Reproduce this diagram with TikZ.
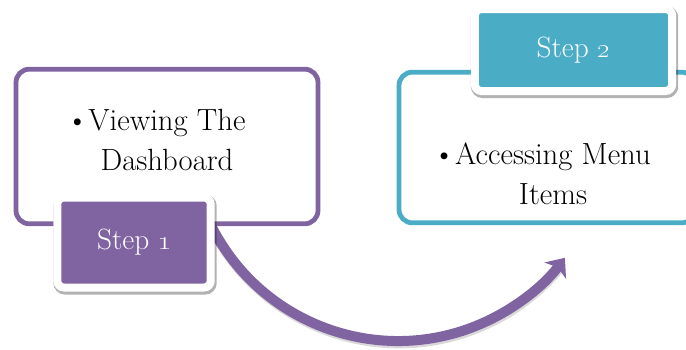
\documentclass[tikz,border=0pt]{standalone}
\usetikzlibrary{
  positioning,
  shadows,
  arrows.meta}
\definecolor{stepone}{RGB}{128,100,162}
\definecolor{steptwo}{RGB}{75,172,198}
\tikzset{
  %% content : the large outlined box of a step
  content/.style={
    rectangle,
    rounded corners=10pt,
    fill=white,
    line width=3.6pt,
    inner sep=0pt
  },
  %% itemtext : the bullet text inside a content box
  itemtext/.style={
    align=center,
    font=\fontsize{23}{30}\selectfont
  },
  %% stepbox : the filled step label with white rim
  stepbox/.style={
    rectangle,
    rounded corners=5pt,
    draw=white,
    line width=6pt,
    minimum width=115pt,
    text=white,
    font=\fontsize{22}{26}\selectfont,
    drop shadow={shadow xshift=0.8pt, shadow yshift=-1.5pt,
      opacity=0.3, fill=black, draw=black, line width=7.5pt}
  },
  %% flow : the curved arrow from one step to the next
  flow/.style={
    stepone,
    line width=7.5pt,
    -{Stealth[length=12pt, width=20pt, inset=3pt]}
  }
}

\begin{document}
\begin{tikzpicture}
  [x=0.75pt,
  y=-0.75pt]

  \useasboundingbox (0, 0) rectangle (686, 350);
  \clip (0, 0) rectangle (686, 350);

  %% Flow arrow (drawn first, boxes cover its start)
  \coordinate (turn) at (398, 132);
  \draw [flow, black!15, line width=8pt, arrows=-]
    ([shift={(1,2)}]turn) ++(150:209) arc[start angle=150, end angle=40, radius=209];
  \draw [flow] (turn) ++(155:209) arc[start angle=155, end angle=37, radius=209];

  %% Step 1
  \node (view) [content, draw=stepone, minimum width=226.5pt,
    minimum height=116pt] at (167, 146.5) {};
  \node (view text) [itemtext] at ([yshift=5pt]view.center) {%
    \llap{\textbullet}Viewing The \\
    Dashboard
  };

  %% Step 2
  \node (access) [content, draw=steptwo, minimum width=222pt,
    minimum height=113pt] at (547, 147.5) {};
  \node (access text) [itemtext] at ([xshift=4.5pt, yshift=-20pt]access.center) {%
    \llap{\textbullet}Accessing Menu \\
    Items
  };

  %% Step labels
  \node (step2) [stepbox, fill=steptwo, minimum width=148pt,
    minimum height=61.5pt] at (573.5, 50) {Step \oldstylenums{2}};
  \node (step1) [stepbox, fill=stepone,
    minimum height=67.5pt] at (134, 242.5) {Step \oldstylenums{1}};

\end{tikzpicture}
\end{document}
